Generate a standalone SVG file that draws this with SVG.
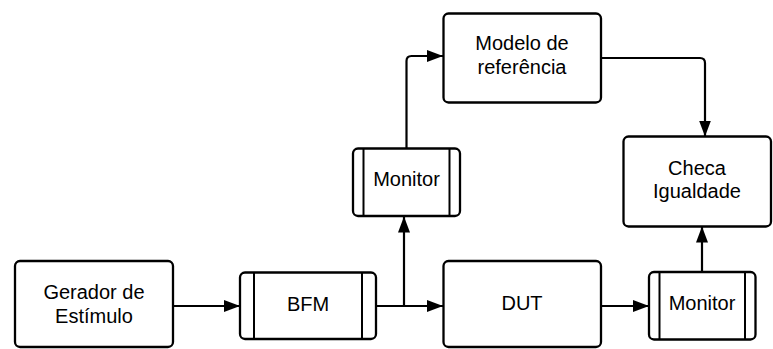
<svg xmlns="http://www.w3.org/2000/svg" width="773" height="349" viewBox="0 0 773 349">
<defs>
<style>
.box{fill:#fff;stroke:#000;stroke-width:2.3}
.div{stroke:#000;stroke-width:2;fill:none}
.t{font-family:"Liberation Sans",Arial,sans-serif;font-size:20px;fill:#000;text-anchor:middle}
.c{fill:none;stroke:#000;stroke-width:2.2;stroke-linejoin:round}
</style>
<marker id="ah" viewBox="0 0 16 12" refX="16" refY="6" markerWidth="16" markerHeight="12" markerUnits="userSpaceOnUse" orient="auto">
<path d="M0,0 L16,6 L0,12 Z" fill="#000"/>
</marker>
</defs>
<g id="connectors">
<path class="c" d="M173,306 L240,306" marker-end="url(#ah)"/>
<path class="c" d="M376,306 L443,306" marker-end="url(#ah)"/>
<path class="c" d="M404,306 L404,216.5" marker-end="url(#ah)"/>
<path class="c" d="M406.5,148 L406.5,61 Q406.5,56 411.5,56 L443,56" marker-end="url(#ah)"/>
<path class="c" d="M601,58 L700,58 Q705,58 705,63 L705,136.5" marker-end="url(#ah)"/>
<path class="c" d="M601,306 L649,306" marker-end="url(#ah)"/>
<path class="c" d="M702,272 L702,226.5" marker-end="url(#ah)"/>
</g>
<g id="gerador">
<rect class="box" x="15" y="261" width="158" height="86" rx="5"/>
<text class="t" x="94" y="299">Gerador de</text>
<text class="t" x="94" y="322.5">Estímulo</text>
</g>
<g id="bfm">
<rect class="box" x="240" y="272.5" width="136" height="66.5" rx="5"/>
<line class="div" x1="254" y1="272.5" x2="254" y2="339"/>
<line class="div" x1="362" y1="272.5" x2="362" y2="339"/>
<text class="t" x="308" y="310.5">BFM</text>
</g>
<g id="monitor1">
<rect class="box" x="353" y="148.5" width="107" height="67.5" rx="5"/>
<line class="div" x1="363.5" y1="148.5" x2="363.5" y2="216"/>
<line class="div" x1="449.5" y1="148.5" x2="449.5" y2="216"/>
<text class="t" x="406.5" y="186">Monitor</text>
</g>
<g id="modelo">
<rect class="box" x="443.5" y="13.5" width="157.5" height="89" rx="5"/>
<text class="t" x="522" y="50">Modelo de</text>
<text class="t" x="522" y="73.5">referência</text>
</g>
<g id="dut">
<rect class="box" x="443.5" y="261" width="157.5" height="86" rx="5"/>
<text class="t" x="522" y="310">DUT</text>
</g>
<g id="monitor2">
<rect class="box" x="649" y="272" width="106.5" height="67.5" rx="5"/>
<line class="div" x1="659.5" y1="272" x2="659.5" y2="339.5"/>
<line class="div" x1="745" y1="272" x2="745" y2="339.5"/>
<text class="t" x="702" y="310">Monitor</text>
</g>
<g id="checa">
<rect class="box" x="623.5" y="136.5" width="147.5" height="90" rx="5"/>
<text class="t" x="697" y="174.5">Checa</text>
<text class="t" x="697" y="198">Igualdade</text>
</g>
</svg>
